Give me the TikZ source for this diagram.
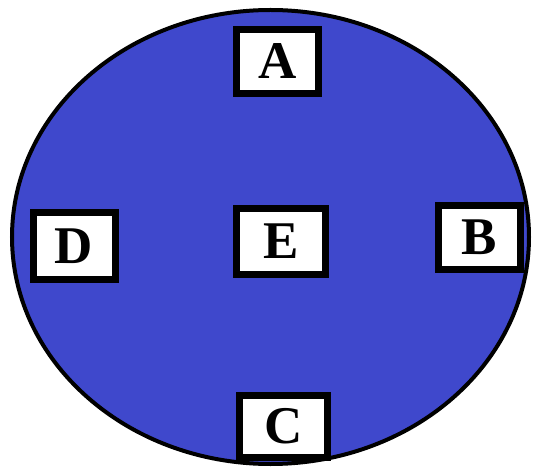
\documentclass[tikz,border=0pt]{standalone}
\usepackage{fontspec}
\setmainfont{Liberation Serif}
\usetikzlibrary{shapes.geometric}
\definecolor{paintblue}{RGB}{63,72,204}

\begin{document}
\begin{tikzpicture}[x=1pt, y=-1pt,
    region/.style={ellipse, draw=black, line width=4pt, fill=paintblue,
                   minimum width=517pt, minimum height=454pt},
    letterbox/.style={draw=black, fill=white, line width=7pt,
                      minimum width=82pt, minimum height=64pt, inner sep=0pt,
                      font=\fontsize{53}{55}\selectfont\bfseries}
  ]
    \useasboundingbox (0,0) rectangle (533,473);
    \node[region] (disk) at (270.5,237) {};

    \node[letterbox] (a) at (277.5,61.5) {A};
    \node[letterbox] (b) at (479,237.5) {B};
    \node[letterbox, minimum width=88pt, minimum height=62pt] (c) at (283.5,426.5) {C};
    \node[letterbox, minimum height=67pt] (d) at (74,246) {D};
    \node[letterbox, minimum width=89pt, minimum height=66pt] (e) at (281,241.5) {E};
  \end{tikzpicture}
\end{document}
